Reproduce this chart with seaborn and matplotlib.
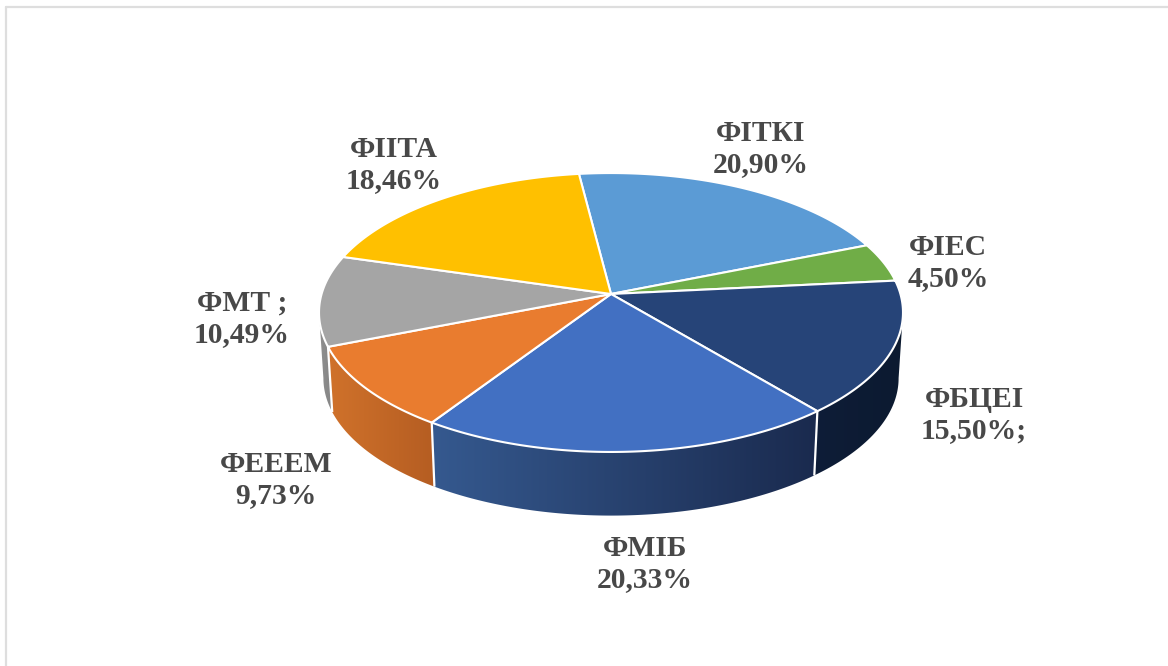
import numpy as np
import matplotlib
matplotlib.use("Agg")
import matplotlib.pyplot as plt
from matplotlib.colors import LinearSegmentedColormap
from matplotlib.patches import Polygon
import seaborn as sns

# ---- data ----
categories = ["ФІТКІ", "ФІЕС", "ФБЦЕІ", "ФМІБ", "ФЕЕЕМ", "ФМТ ;", "ФІІТА"]
shares = [20.90, 4.50, 15.50, 20.33, 9.73, 10.49, 18.46]
value_suffix = ["", "", ";", "", "", "", ""]

# ---- style ----
top_colors = ["#5B9BD5", "#70AD47", "#264478", "#4270C2", "#E97C2F", "#A5A5A5", "#FFC000"]
side_left = ["#5B9BD5", "#70AD47", "#0E1D38", "#35598F", "#D0722B", "#8F8F8F", "#FFC000"]
side_right = ["#5B9BD5", "#70AD47", "#0C1A30", "#1A2A4E", "#B55D22", "#858585", "#FFC000"]
label_xy = [(761, 149), (948, 263), (974, 415), (645, 564), (276, 480), (242, 319), (394, 165)]
TEXT = "#484848"

sns.set_theme(style="white")
plt.rcParams["font.family"] = ["Liberation Serif", "DejaVu Serif"]

W, H = 1168, 666
fig = plt.figure(figsize=(W / 100, H / 100), dpi=100, facecolor="white")
ax = fig.add_axes([0, 0, 1, 1])

# perspective projection of the disc
CX, CY, A, B, C = 611, 294, 289.4, 137.0, 0.1327
BOTTOM_SCALE, BOTTOM_Y = 0.985, 360


def project(theta, scale=1.0, cy=CY):
    """theta: degrees clockwise from 12 o'clock; unit disc rim."""
    t = np.radians(theta)
    X, Y = np.sin(t), -np.cos(t)
    d = 1 - C * Y
    return CX + scale * A * X / d, cy + scale * B * Y / d


palette = sns.color_palette(top_colors)
vals = np.array(shares)
edges = -7.2 + np.concatenate([[0], np.cumsum(vals)]) / vals.sum() * 360

# angles where the rim is widest: the wall is visible only between them
dense = np.linspace(0, 360, 3601)
rim_x, _ = project(dense)
theta_right, theta_left = dense[np.argmax(rim_x)], dense[np.argmin(rim_x)]

# side walls
for i in range(len(vals)):
    a0, a1 = max(edges[i], theta_right), min(edges[i + 1], theta_left)
    if a1 <= a0:
        continue
    th = np.linspace(a0, a1, 200)
    xt, yt = project(th)
    xb, yb = project(th, BOTTOM_SCALE, BOTTOM_Y)
    pts = np.r_[np.c_[xt, yt], np.c_[xb, yb][::-1]]
    poly = Polygon(pts, closed=True, fc="none", ec="none")
    ax.add_patch(poly)
    cmap = LinearSegmentedColormap.from_list("s", [side_left[i], side_right[i]])
    x0, x1 = pts[:, 0].min(), pts[:, 0].max()
    y0, y1 = pts[:, 1].min(), pts[:, 1].max()
    im = ax.imshow(np.linspace(0, 1, 256)[None, :], cmap=cmap, extent=[x0, x1, y1, y0],
                   aspect="auto", zorder=1, interpolation="bilinear")
    im.set_clip_path(poly)

# white seams between the walls
for e in edges:
    a = e % 360
    if theta_right < a < theta_left:
        xt, yt = project(a)
        xb, yb = project(a, BOTTOM_SCALE, BOTTOM_Y)
        ax.plot([xt, xb], [yt, yb], color="white", lw=1.6, zorder=2, solid_capstyle="butt")

# top faces
for i in range(len(vals)):
    th = np.linspace(edges[i], edges[i + 1], 200)
    x, y = project(th)
    pts = np.r_[[[CX, CY]], np.c_[x, y]]
    ax.add_patch(Polygon(pts, closed=True, fc=palette[i], ec="white", lw=1.5,
                         joinstyle="round", zorder=3))

# labels
for cat, v, suf, (lx, ly) in zip(categories, shares, value_suffix, label_xy):
    txt = f"{cat}\n{v:.2f}%".replace(".", ",") + suf
    ax.text(lx, ly, txt, ha="center", va="center", color=TEXT, fontsize=21.3,
            fontweight="bold", linespacing=1.21, zorder=4)

# thin page frame
ax.plot([6, 6], [H, 7], color="#DEDEDE", lw=1.6, zorder=0)
ax.plot([6, W], [7, 7], color="#DEDEDE", lw=1.6, zorder=0)

ax.set_xlim(0, W)
ax.set_ylim(H, 0)
ax.axis("off")

fig.savefig("out.png", dpi=100, facecolor="white")
